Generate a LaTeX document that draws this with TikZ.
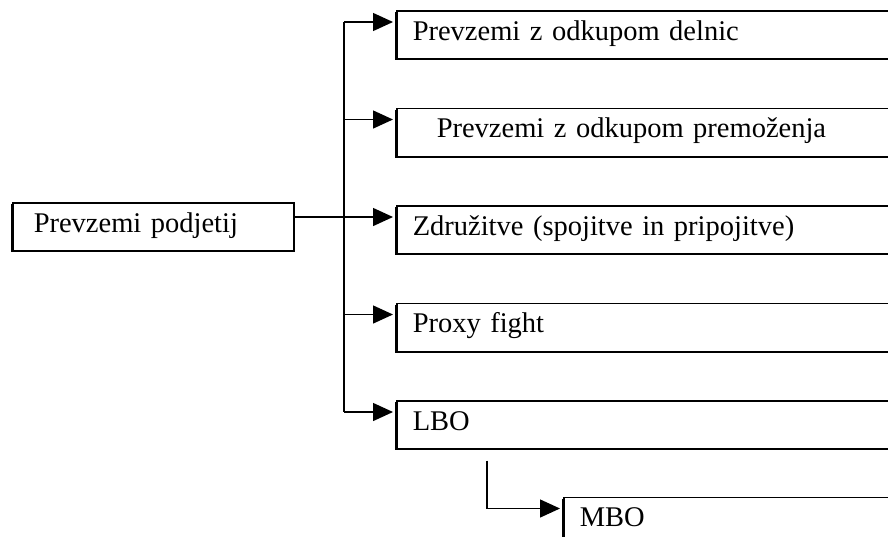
\documentclass[tikz,border=0pt]{standalone}
\usepackage{fontspec}
\setmainfont{Liberation Serif}
\usetikzlibrary{arrows.meta,positioning,shadows}

\begin{document}
\begin{tikzpicture}[
    x=1pt, y=-1pt,
    node distance=48pt,
    box/.style={draw, line width=1.5pt, fill=white, minimum height=48pt, inner ysep=0pt,
                drop shadow={shadow xshift=-1.5pt, shadow yshift=-1.5pt, fill=black, opacity=1},
                anchor=north west, align=left, font=\fontsize{28.5}{34}\selectfont,
                text height=19pt, text depth=8pt},
    sub/.style={box, text width=488pt, inner xsep=16pt},
    top/.style={box, text width=239pt, inner xsep=21pt},
    conn/.style={line width=1.4pt},
    line/.style={conn, -{Triangle[length=20pt,width=18pt]}, shorten >=3pt}
]
\useasboundingbox (0,0) rectangle (888,536);

\node[top] (root) at (12,202) {Prevzemi podjetij};

\node[sub] (b1) at (396,10) {Prevzemi z odkupom delnic};
\node[sub, below=of b1] (b2) {\hspace*{24pt}Prevzemi z odkupom premoženja};
\node[sub, below=of b2] (b3) {Združitve (spojitve in pripojitve)};
\node[sub, below=of b3] (b4) {Proxy fight};
\node[sub, below=of b4] (lbo) {LBO};
\node[sub, below right=47pt and 167pt of lbo.south west] (mbo) {MBO};

% arrow entry points on the left sides
\foreach \b in {b1,b2,b3,b4,lbo,mbo}
    \coordinate (\b-in) at ([yshift=-12pt]\b.north west);
\coordinate (spine) at (344,0);

\draw[line] (root.east |- b3-in) -- (b3-in);
\draw[conn] (spine |- b1-in) -- (spine |- lbo-in);
\foreach \b in {b1,b2,b4,lbo}
    \draw[line] (spine |- \b-in) -- (\b-in);
\draw[line] ([xshift=91pt,yshift=-11pt]lbo.south west) |- (mbo-in);
\end{tikzpicture}
\end{document}
